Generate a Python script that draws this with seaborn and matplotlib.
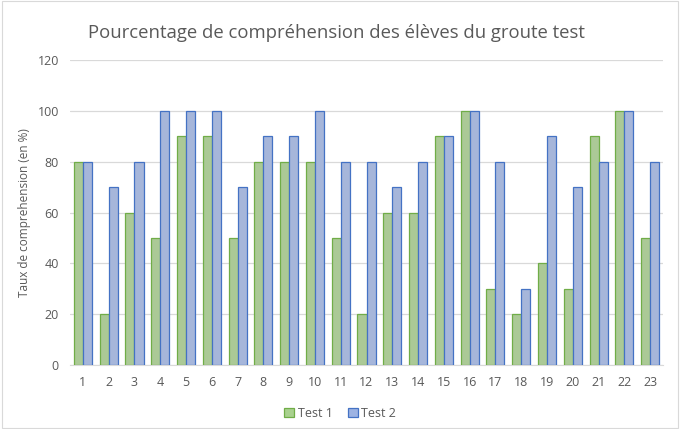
import matplotlib
matplotlib.use("Agg")
import matplotlib.pyplot as plt
import seaborn as sns
import pandas as pd
from matplotlib.patches import Rectangle

categories = [str(i) for i in range(1, 24)]
test1 = [80, 20, 60, 50, 90, 90, 50, 80, 80, 80, 50, 20, 60, 60, 90, 100, 30, 20, 40, 30, 90, 100, 50]
test2 = [80, 70, 80, 100, 100, 100, 70, 90, 90, 100, 80, 80, 70, 80, 90, 100, 80, 30, 90, 70, 80, 100, 80]
series = ["Test 1", "Test 2"]

df = pd.DataFrame({
    "cat": categories * 2,
    "val": test1 + test2,
    "serie": [series[0]] * len(categories) + [series[1]] * len(categories),
})

sns.set_style("white")
plt.rcParams["font.family"] = ["Open Sans", "DejaVu Sans"]

fig = plt.figure(figsize=(6.8, 4.29), dpi=100)
ax = fig.add_axes([0.103, 0.149, 0.872, 0.711])

fills = {"Test 1": "#A9D18E", "Test 2": "#9DB3E3"}
edges = {"Test 1": "#70AD47", "Test 2": "#4472C4"}

sns.barplot(data=df, x="cat", y="val", hue="serie", palette=fills, width=0.7,
            gap=0, ax=ax, legend=False, zorder=3)
for bars, s in zip(ax.containers, series):
    for b in bars:
        b.set_edgecolor(edges[s])
        b.set_linewidth(0.9)

ax.set_ylim(0, 120)
ax.set_yticks(range(0, 121, 20))
ax.set_xlim(-0.5, len(categories) - 0.5)
ax.yaxis.grid(True, color="#D9D9D9", linewidth=0.9, zorder=0)
ax.set_axisbelow(True)
for side in ["top", "right", "left"]:
    ax.spines[side].set_visible(False)
ax.spines["bottom"].set_color("#D9D9D9")
ax.tick_params(axis="both", length=0, colors="#595959", labelsize=9, pad=8)
ax.set_xlabel("")
ax.set_ylabel("Taux de comprehension (en %)", color="#595959", fontsize=8.5, labelpad=5)

fig.suptitle("Pourcentage de compréhension des élèves du groute test", x=0.495, y=0.945,
             fontsize=13.3, color="#595959")

handles = [Rectangle((0, 0), 1, 1, facecolor=fills[s], edgecolor=edges[s], linewidth=0.9) for s in series]
fig.legend(handles, series, loc="center", bbox_to_anchor=(0.5, 0.037), ncol=2, frameon=False,
           fontsize=9, labelcolor="#595959", handlelength=0.8, handleheight=0.8,
           handletextpad=0.3, columnspacing=1.2)

fig.patches.append(Rectangle((0.003, 0.003), 0.994, 0.994, transform=fig.transFigure,
                             fill=False, edgecolor="#D9D9D9", linewidth=0.8))

fig.savefig("out.png", dpi=100)
